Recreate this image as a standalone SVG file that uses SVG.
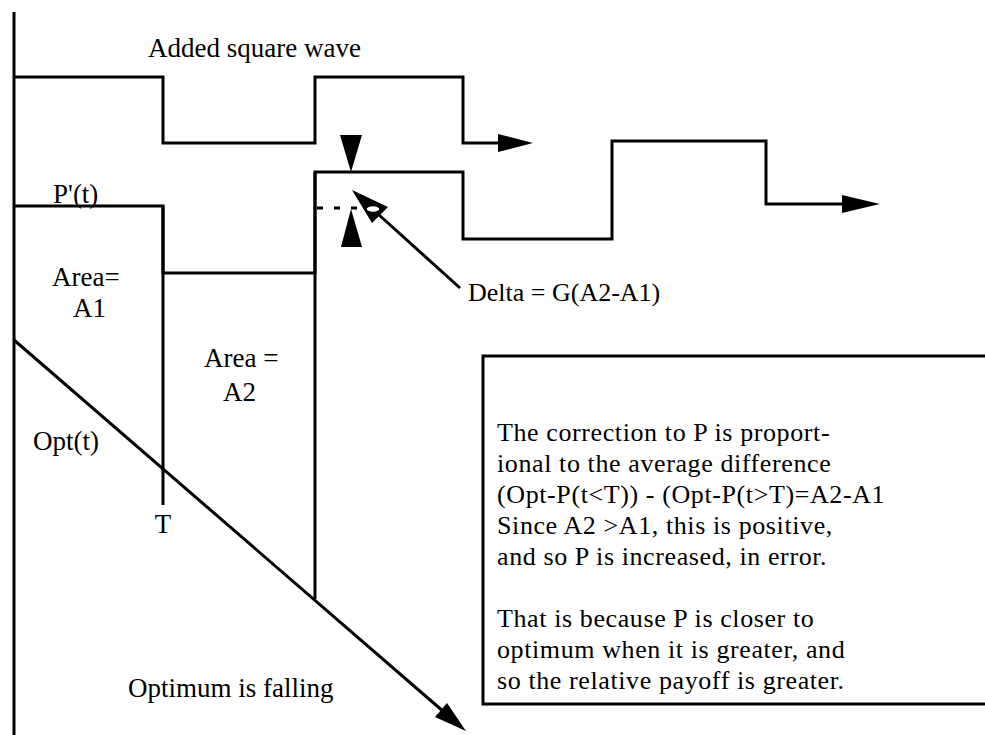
<svg xmlns="http://www.w3.org/2000/svg" width="985" height="735" viewBox="0 0 985 735">
<style>
.ln{fill:none;stroke:#000;stroke-width:3;stroke-linejoin:miter;stroke-linecap:butt}
.ah{fill:#000;stroke:none}
text{font-family:"Liberation Serif","Times New Roman",serif;fill:#000;font-size:27px}
.dl{font-size:26px}
.bx{font-size:26px;letter-spacing:0.6px}
</style>
<rect width="985" height="735" fill="#fff"/>
<g id="axis"><line class="ln" x1="14" y1="12" x2="14" y2="735"/></g>
<g id="square-wave">
<path class="ln" d="M14,77 H163 V143 H315 V77 H463 V143 H505"/>
<polygon class="ah" points="498,134 533,143 498,152"/>
<text x="148" y="57">Added square wave</text>
</g>
<g id="p-prime">
<path class="ln" d="M14,206 H163 V273 H315 V172 H463 V239 H612 V141 H766 V204 H850"/>
<polygon class="ah" points="842,195 880,204 842,213"/>
<text x="53" y="203">P'(t)</text>
</g>
<g id="t-marker">
<line class="ln" x1="163" y1="206" x2="163" y2="505"/>
<text x="163" y="533" text-anchor="middle">T</text>
</g>
<g id="a2-edge"><line class="ln" x1="315" y1="172" x2="315" y2="599"/></g>
<g id="area1"><text x="52" y="286">Area=</text><text x="73" y="317">A1</text></g>
<g id="area2"><text x="204" y="367">Area =</text><text x="223" y="401">A2</text></g>
<g id="opt">
<line class="ln" x1="14" y1="340" x2="444" y2="712"/>
<polygon class="ah" points="466,731 435,717 447,703"/>
<text x="33" y="450">Opt(t)</text>
<text x="128" y="697">Optimum is falling</text>
</g>
<g id="delta">
<polygon class="ah" points="340,135 362,135 351,172"/>
<polygon class="ah" points="351,209 341,247 362,247"/>
<line x1="317" y1="208" x2="370" y2="208" stroke="#000" stroke-width="3" stroke-dasharray="6,11"/>
<line class="ln" x1="378" y1="214" x2="460" y2="288"/>
<polygon class="ah" points="352,190 388,207 372,223"/>
<ellipse cx="373" cy="209" rx="7" ry="3.5" fill="#fff" stroke="#000" stroke-width="1.5"/>
<text class="dl" x="468" y="301">Delta = G(A2-A1)</text>
</g>
<g id="note">
<path class="ln" d="M990,356 H483 V704 H990"/>
<text class="bx" x="497" y="441">The correction to P is proport-</text>
<text class="bx" x="497" y="472">ional to the average difference</text>
<text class="bx" x="497" y="503">(Opt-P(t&lt;T)) - (Opt-P(t&gt;T)=A2-A1</text>
<text class="bx" x="497" y="534">Since A2 &gt;A1, this is positive,</text>
<text class="bx" x="497" y="565">and so P is increased, in error.</text>
<text class="bx" x="497" y="627">That is because P is closer to</text>
<text class="bx" x="497" y="658">optimum when it is greater, and</text>
<text class="bx" x="497" y="689">so the relative payoff is greater.</text>
</g>
</svg>
